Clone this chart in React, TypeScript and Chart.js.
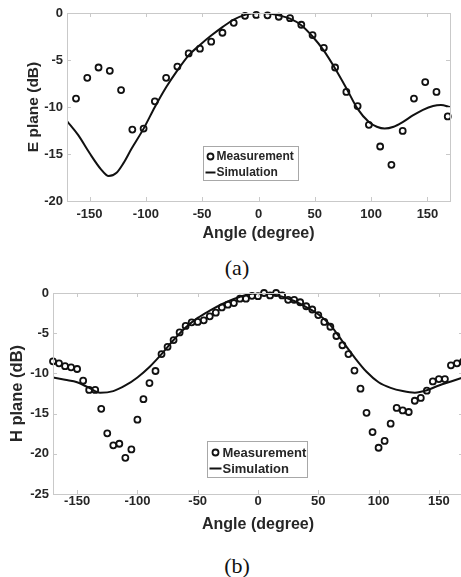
import React, { useEffect, useRef } from "react";
import { Chart, registerables } from "chart.js";
Chart.register(...registerables);

// ---------- (a) E plane ----------
const eMeasAngles = [-162, -152, -142, -132, -122, -112, -102, -92, -82, -72, -62, -52, -42, -32, -22, -12, -2, 8, 18, 28, 38, 48, 58, 68, 78, 88, 98, 108, 118, 128, 138, 148, 158, 168];
const eMeasValues = [-9.1, -6.9, -5.8, -6.15, -8.2, -12.4, -12.3, -9.4, -6.9, -5.7, -4.3, -3.8, -3.05, -2.1, -1.05, -0.3, -0.2, -0.25, -0.4, -0.55, -1.25, -2.35, -3.7, -5.8, -8.4, -9.9, -11.9, -14.2, -16.15, -12.55, -9.1, -7.35, -8.4, -11.0];
const eSimAngles = [-170, -160, -150, -140, -133, -126, -120, -113, -102, -92, -82, -72, -62, -52, -42, -32, -22, -12, -5, 0, 5, 10, 18, 28, 38, 48, 58, 68, 78, 88, 98, 105, 112, 120, 128, 137, 146, 155, 162, 170];
const eSimValues = [-11.5, -13.0, -14.9, -16.6, -17.35, -17.0, -16.0, -14.5, -12.3, -10.0, -7.9, -6.1, -4.5, -3.4, -2.4, -1.5, -0.7, -0.2, -0.03, 0, 0, -0.05, -0.25, -0.6, -1.3, -2.5, -4.0, -5.9, -8.0, -10.2, -11.6, -12.1, -12.3, -12.1, -11.6, -10.9, -10.3, -9.9, -9.8, -10.0];
const eYTicks = [0, -5, -10, -15, -20];

// ---------- (b) H plane ----------
const hMeasAngles = [-170, -165, -160, -155, -150, -145, -140, -135, -130, -125, -120, -115, -110, -105, -100, -95, -90, -85, -80, -75, -70, -65, -60, -55, -50, -45, -40, -35, -30, -25, -20, -15, -10, -5, 0, 5, 10, 15, 20, 25, 30, 35, 40, 45, 50, 55, 60, 65, 70, 75, 80, 85, 90, 95, 100, 105, 110, 115, 120, 125, 130, 135, 140, 145, 150, 155, 160, 165, 170];
const hMeasValues = [-8.5, -8.75, -9.1, -9.25, -9.45, -10.9, -12.05, -12.05, -14.4, -17.45, -18.95, -18.75, -20.5, -19.45, -15.75, -13.2, -11.2, -9.7, -7.6, -6.7, -5.85, -4.9, -4.1, -3.65, -3.6, -3.4, -2.9, -2.45, -1.8, -1.45, -1.25, -0.7, -0.7, -0.35, -0.4, 0, -0.3, 0, -0.3, -0.85, -0.85, -1.15, -1.65, -2.05, -2.75, -3.6, -4.2, -5.35, -6.5, -7.6, -9.65, -11.9, -14.9, -17.3, -19.25, -18.4, -16.25, -14.3, -14.6, -14.8, -13.4, -13.05, -12.15, -11.0, -10.7, -10.7, -9.0, -8.75, -8.55];
const hSimAngles = [-170, -160, -150, -140, -131, -120, -110, -100, -90, -80, -70, -60, -50, -40, -30, -20, -10, 0, 5, 10, 20, 30, 40, 50, 60, 70, 80, 90, 100, 110, 120, 130, 140, 150, 160, 170];
const hSimValues = [-10.5, -10.8, -11.1, -11.8, -12.4, -12.2, -11.5, -10.5, -9.2, -7.6, -5.85, -4.3, -3.1, -2.2, -1.4, -0.75, -0.25, 0, 0, -0.1, -0.45, -1.0, -1.75, -2.65, -4.0, -6.0, -8.0, -9.8, -11.1, -11.8, -12.2, -12.4, -12.1, -11.5, -11.0, -10.5];
const hYTicks = [0, -5, -10, -15, -20, -25];

const xTicks = [-150, -100, -50, 0, 50, 100, 150];
const legendLabels = ["Measurement", "Simulation"];

const TEXT = "#262626";
const FRAME = "#c9c9c9";
const FONT = "Arial, 'Liberation Sans', sans-serif";

type Cfg = {
  yLabel: string;
  yMin: number;
  yTicks: number[];
  measA: number[];
  measV: number[];
  simA: number[];
  simV: number[];
  pad: { left: number; top: number; right: number; bottom: number };
  yWidth: number;
  xHeight: number;
  xTickPad: number;
  yTitleSize: number;
  legend: { dx: number; dy: number; w: number; h: number; size: number; r1: number; r2: number; tx: number; cx: number };
};

function makeFramePlugin(cfg: Cfg) {
  return {
    id: "frameLegend",
    afterDatasetsDraw(chart: any) {
      const { ctx, chartArea: a, scales } = chart;
      ctx.save();
      ctx.strokeStyle = FRAME;
      ctx.lineWidth = 1;
      ctx.strokeRect(Math.round(a.left) + 0.5, Math.round(a.top) + 0.5, Math.round(a.right - a.left), Math.round(a.bottom - a.top));
      const tl = 4;
      ctx.beginPath();
      for (const v of xTicks) {
        const px = Math.round(scales.x.getPixelForValue(v)) + 0.5;
        ctx.moveTo(px, a.top);
        ctx.lineTo(px, a.top + tl);
        ctx.moveTo(px, a.bottom);
        ctx.lineTo(px, a.bottom - tl);
      }
      for (const v of cfg.yTicks) {
        const py = Math.round(scales.y.getPixelForValue(v)) + 0.5;
        ctx.moveTo(a.left, py);
        ctx.lineTo(a.left + tl, py);
        ctx.moveTo(a.right, py);
        ctx.lineTo(a.right - tl, py);
      }
      ctx.stroke();

      // legend box
      const L = cfg.legend;
      const lx = Math.round(a.left + L.dx) + 0.5;
      const ly = Math.round(a.top + L.dy) + 0.5;
      ctx.fillStyle = "#ffffff";
      ctx.fillRect(lx, ly, L.w, L.h);
      ctx.strokeStyle = "#a8a8a8";
      ctx.strokeRect(lx, ly, L.w, L.h);
      ctx.fillStyle = TEXT;
      ctx.font = `bold ${L.size}px ${FONT}`;
      ctx.textBaseline = "middle";
      ctx.textAlign = "left";
      // marker row
      ctx.strokeStyle = "#111";
      ctx.lineWidth = 1.8;
      ctx.beginPath();
      ctx.arc(lx + L.cx, ly + L.r1, 3, 0, Math.PI * 2);
      ctx.stroke();
      ctx.fillText(legendLabels[0], lx + L.tx, ly + L.r1 + 0.5);
      // line row
      ctx.lineWidth = 2;
      ctx.beginPath();
      ctx.moveTo(lx + 2, ly + L.r2);
      ctx.lineTo(lx + L.tx - 1, ly + L.r2);
      ctx.stroke();
      ctx.fillText(legendLabels[1], lx + L.tx, ly + L.r2 + 0.5);
      ctx.restore();
    },
  };
}

function buildChart(canvas: HTMLCanvasElement, cfg: Cfg) {
  return new Chart(canvas, {
    type: "scatter",
    data: {
      datasets: [
        {
          label: legendLabels[0],
          data: cfg.measA.map((a, i) => ({ x: a, y: cfg.measV[i] })),
          showLine: false,
          pointStyle: "circle",
          pointRadius: 3,
          pointBorderWidth: 1.8,
          pointBorderColor: "#111",
          pointBackgroundColor: "rgba(255,255,255,0)",
          borderColor: "#111",
          backgroundColor: "rgba(255,255,255,0)",
          clip: false,
        } as any,
        {
          label: legendLabels[1],
          data: cfg.simA.map((a, i) => ({ x: a, y: cfg.simV[i] })),
          showLine: true,
          pointRadius: 0,
          borderColor: "#111",
          borderWidth: 2,
          cubicInterpolationMode: "monotone",
          fill: false,
        } as any,
      ],
    },
    options: {
      responsive: false,
      animation: false,
      events: [],
      layout: { padding: cfg.pad },
      plugins: { legend: { display: false }, tooltip: { enabled: false } },
      scales: {
        x: {
          type: "linear",
          min: -170,
          max: 170,
          afterBuildTicks: (s: any) => {
            s.ticks = xTicks.map((v) => ({ value: v }));
          },
          afterFit: (s: any) => {
            s.height = cfg.xHeight;
          },
          grid: { display: false, drawTicks: false },
          border: { display: false },
          ticks: { padding: cfg.xTickPad, color: TEXT, font: { family: FONT, size: 13, weight: "bold" } },
          title: { display: true, text: "Angle (degree)", color: TEXT, padding: 0, font: { family: FONT, size: 16, weight: "bold" } },
        },
        y: {
          type: "linear",
          min: cfg.yMin,
          max: 0,
          afterBuildTicks: (s: any) => {
            s.ticks = cfg.yTicks.map((v) => ({ value: v }));
          },
          afterFit: (s: any) => {
            s.width = cfg.yWidth;
          },
          grid: { display: false, drawTicks: false },
          border: { display: false },
          ticks: { padding: 4, color: TEXT, font: { family: FONT, size: 13, weight: "bold" } },
          title: { display: true, text: cfg.yLabel, color: TEXT, padding: 0, font: { family: FONT, size: cfg.yTitleSize, weight: "bold" } },
        },
      },
    } as any,
    plugins: [makeFramePlugin(cfg)],
  });
}

const topCfg: Cfg = {
  yLabel: "E plane (dB)",
  yMin: -20,
  yTicks: eYTicks,
  measA: eMeasAngles,
  measV: eMeasValues,
  simA: eSimAngles,
  simV: eSimValues,
  pad: { left: 24, top: 13, right: 11, bottom: 7 },
  yWidth: 43,
  xHeight: 42,
  xTickPad: 6,
  yTitleSize: 15.5,
  legend: { dx: 136, dy: 133, w: 95, h: 34, size: 12, r1: 10, r2: 26, tx: 13, cx: 7 },
};

const botCfg: Cfg = {
  yLabel: "H plane (dB)",
  yMin: -25,
  yTicks: hYTicks,
  measA: hMeasAngles,
  measV: hMeasValues,
  simA: hSimAngles,
  simV: hSimValues,
  pad: { left: 8, top: 13, right: 17, bottom: 6 },
  yWidth: 45,
  xHeight: 40,
  xTickPad: 0,
  yTitleSize: 16.5,
  legend: { dx: 154, dy: 148, w: 100, h: 36, size: 13, r1: 11, r2: 27, tx: 15, cx: 8 },
};

export default function App() {
  const topRef = useRef<HTMLCanvasElement>(null);
  const botRef = useRef<HTMLCanvasElement>(null);

  useEffect(() => {
    document.body.style.margin = "0";
    document.body.style.background = "#ffffff";
    const c1 = buildChart(topRef.current!, topCfg);
    const c2 = buildChart(botRef.current!, botCfg);
    return () => {
      c1.destroy();
      c2.destroy();
    };
  }, []);

  const capStyle: React.CSSProperties = {
    position: "absolute",
    left: 237,
    transform: "translateX(-50%)",
    fontFamily: "'Liberation Serif', 'Times New Roman', serif",
    fontSize: 22,
    lineHeight: "22px",
    color: "#111",
    whiteSpace: "nowrap",
  };

  return (
    <div style={{ position: "relative", width: 461, height: 577, overflow: "hidden", background: "#fff" }}>
      <canvas ref={topRef} width={461} height={250} style={{ position: "absolute", left: 0, top: 0, width: 461, height: 250 }} />
      <div style={{ ...capStyle, top: 257 }}>(a)</div>
      <canvas ref={botRef} width={480} height={260} style={{ position: "absolute", left: 0, top: 280, width: 480, height: 260 }} />
      <div style={{ ...capStyle, top: 555 }}>(b)</div>
    </div>
  );
}
